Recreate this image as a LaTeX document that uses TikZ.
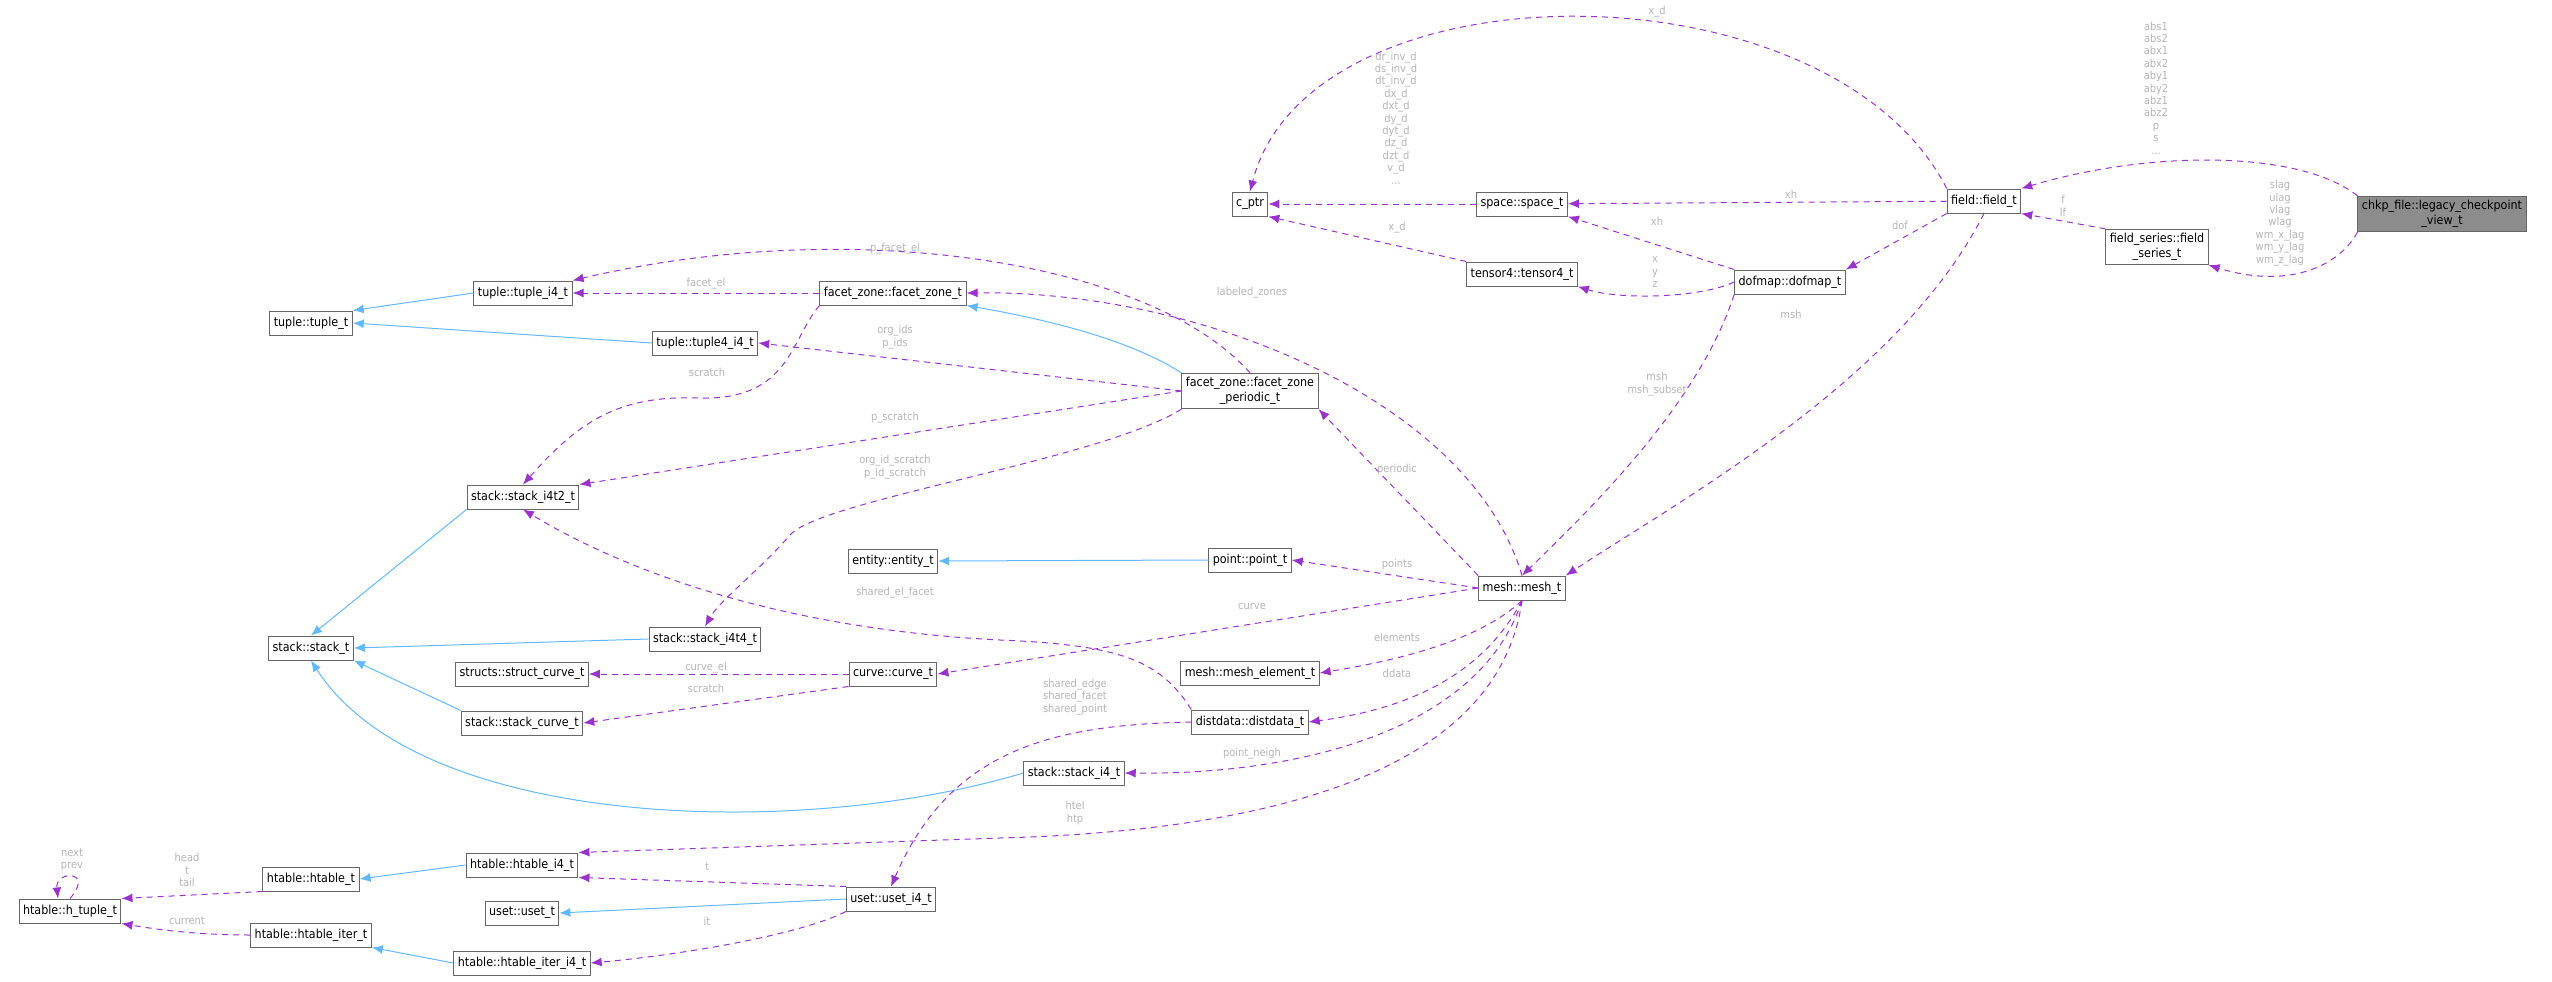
\documentclass[tikz,border=0pt]{standalone}
\usepackage{fontspec}
\setmainfont{DejaVu Sans Condensed}
\usetikzlibrary{arrows.meta}
\definecolor{usecol}{HTML}{9A32CD}
\definecolor{inhcol}{HTML}{63B8FF}
\definecolor{lblcol}{HTML}{B4B4B4}
\tikzset{
  cls/.style={draw=black!60, fill=white, rectangle, inner sep=4pt, minimum height=24pt,
    font=\fontsize{12.4}{15}\selectfont, align=center, line width=1pt},
  use/.style={draw=usecol, dashed, dash pattern=on 6pt off 5pt, line width=1pt,
    -{Latex[length=11pt,width=9pt]}},
  inh/.style={draw=inhcol, line width=1pt, -{Latex[length=11pt,width=9pt]}},
  lbl/.style={text=lblcol, font=\fontsize{11}{12.4}\selectfont, align=center, inner sep=0pt}
}
\begin{document}
\begin{tikzpicture}[x=1pt, y=-1pt]
  \useasboundingbox (0,0) rectangle (2552,982);

  % Classes
  \node[cls, fill=black!45] (chkp) at (2442,214) {chkp\_file::legacy\_checkpoint\\\_view\_t};
  \node[cls] (field)   at (1984,201) {field::field\_t};
  \node[cls] (fseries) at (2157,247) {field\_series::field\\\_series\_t};
  \node[cls] (cptr)    at (1250,204) {c\_ptr};
  \node[cls] (space)   at (1522,204) {space::space\_t};
  \node[cls] (tensor)  at (1522,274) {tensor4::tensor4\_t};
  \node[cls] (dofmap)  at (1790,282) {dofmap::dofmap\_t};
  \node[cls] (tuplei4) at (523,293)  {tuple::tuple\_i4\_t};
  \node[cls] (fzone)   at (893,293)  {facet\_zone::facet\_zone\_t};
  \node[cls] (tuple)   at (311,323)  {tuple::tuple\_t};
  \node[cls] (tuple4)  at (705,343)  {tuple::tuple4\_i4\_t};
  \node[cls] (fzper)   at (1250,391) {facet\_zone::facet\_zone\\\_periodic\_t};
  \node[cls] (si4t2)   at (523,497)  {stack::stack\_i4t2\_t};
  \node[cls] (entity)  at (893,561)  {entity::entity\_t};
  \node[cls] (point)   at (1250,560) {point::point\_t};
  \node[cls] (mesh)    at (1522,588) {mesh::mesh\_t};
  \node[cls] (si4t4)   at (705,639)  {stack::stack\_i4t4\_t};
  \node[cls] (stack)   at (311,648)  {stack::stack\_t};
  \node[cls] (scurve)  at (522,674)  {structs::struct\_curve\_t};
  \node[cls] (curve)   at (893,674)  {curve::curve\_t};
  \node[cls] (melem)   at (1250,673) {mesh::mesh\_element\_t};
  \node[cls] (stcurve) at (522,723)  {stack::stack\_curve\_t};
  \node[cls] (ddata)   at (1250,722) {distdata::distdata\_t};
  \node[cls] (si4)     at (1074,773) {stack::stack\_i4\_t};
  \node[cls] (hti4)    at (522,865)  {htable::htable\_i4\_t};
  \node[cls] (htable)  at (311,879)  {htable::htable\_t};
  \node[cls] (htuple)  at (70,911)   {htable::h\_tuple\_t};
  \node[cls] (uset)    at (522,913)  {uset::uset\_t};
  \node[cls] (useti4)  at (891,899)  {uset::uset\_i4\_t};
  \node[cls] (hiter)   at (311,935)  {htable::htable\_iter\_t};
  \node[cls] (hiteri4) at (522,963)  {htable::htable\_iter\_i4\_t};

  % Inheritance
  \draw[inh] (tuplei4.west) -- (tuple.north east);
  \draw[inh] (tuple4.west) -- (tuple.east);
  \draw[inh] (fzper.north west) .. controls (1130,340) and (1050,320) .. (fzone.south east);
  \draw[inh] (si4t2.south west) -- (stack.north);
  \draw[inh] (si4t4.west) -- (stack.east);
  \draw[inh] (stcurve.north west) -- (stack.south east);
  \draw[inh] (si4.west) .. controls (800,840) and (420,830) .. (stack.south);
  \draw[inh] (point.west) -- (entity.east);
  \draw[inh] (hti4.west) -- (htable.east);
  \draw[inh] (useti4.west) -- (uset.east);
  \draw[inh] (hiteri4.west) -- (hiter.south east);

  % Members of the checkpoint and the field
  \draw[use] (chkp.north west) .. controls (2300,150) and (2150,150) .. (field.north east);
  \node[lbl] at (2156,88) {abs1\\abs2\\abx1\\abx2\\aby1\\aby2\\abz1\\abz2\\p\\s\\...};
  \draw[use] (chkp.south west) .. controls (2340,265) and (2290,290) .. (fseries.south east);
  \node[lbl] at (2280,223) {slag\\ulag\\vlag\\wlag\\wm\_x\_lag\\wm\_y\_lag\\wm\_z\_lag};
  \draw[use] (fseries.north west) -- (field.south east);
  \node[lbl] at (2063,206) {f\\lf};
  \draw[use] (field.north west) .. controls (1830,-40) and (1310,-40) .. (cptr.north);
  \node[lbl] at (1657,12) {x\_d};
  \draw[use] (field) -- (space);
  \node[lbl] at (1791,194) {xh};
  \draw[use] (field.south west) -- (dofmap.north east);
  \node[lbl] at (1900,225) {dof};
  \draw[use] (field.south) .. controls (1900,380) and (1680,500) .. (mesh.north east);
  \node[lbl] at (1791,314) {msh};

  % Members of space, tensor and dofmap
  \draw[use] (space) -- (cptr);
  \node[lbl] at (1396,118) {dr\_inv\_d\\ds\_inv\_d\\dt\_inv\_d\\dx\_d\\dxt\_d\\dy\_d\\dyt\_d\\dz\_d\\dzt\_d\\v\_d\\...};
  \draw[use] (tensor.north west) -- (cptr.south east);
  \node[lbl] at (1397,228) {x\_d};
  \draw[use] (dofmap.north west) -- (space.south east);
  \node[lbl] at (1657,221) {xh};
  \draw[use] (dofmap.west) .. controls (1700,298) and (1620,300) .. (tensor.south east);
  \node[lbl] at (1655,272) {x\\y\\z};
  \draw[use] (dofmap.south west) .. controls (1700,400) and (1600,500) .. (mesh.north);
  \node[lbl] at (1657,384) {msh\\msh\_subset};

  % Members of the mesh
  \draw[use] (mesh.north) .. controls (1470,400) and (1200,290) .. (fzone.east);
  \node[lbl] at (1252,293) {labeled\_zones};
  \draw[use] (mesh.north west) -- (fzper.south east);
  \node[lbl] at (1397,469) {periodic};
  \draw[use] (mesh.west) -- (point.east);
  \node[lbl] at (1397,564) {points};
  \draw[use] (mesh.west) -- (curve.east);
  \node[lbl] at (1252,606) {curve};
  \draw[use] (mesh.south) .. controls (1480,640) and (1400,660) .. (melem.east);
  \node[lbl] at (1397,637) {elements};
  \draw[use] (mesh.south) .. controls (1480,680) and (1400,710) .. (ddata.east);
  \node[lbl] at (1397,673) {ddata};
  \draw[use] (mesh.south) .. controls (1480,730) and (1300,775) .. (si4.east);
  \node[lbl] at (1252,754) {point\_neigh};
  \draw[use] (mesh.south) .. controls (1500,760) and (1300,830) .. (1000,838) .. controls (800,845) and (650,850) .. (hti4.north east);
  \node[lbl] at (1075,813) {htel\\htp};

  % Members of the facet zones
  \draw[use] (fzper.north) .. controls (1150,260) and (850,215) .. (tuplei4.north east);
  \node[lbl] at (895,249) {p\_facet\_el};
  \draw[use] (fzone) -- (tuplei4);
  \node[lbl] at (706,284) {facet\_el};
  \draw[use] (fzper.west) -- (tuple4.east);
  \node[lbl] at (895,337) {org\_ids\\p\_ids};
  \draw[use] (fzone.south west) .. controls (790,340) and (790,400) .. (700,398) .. controls (620,395) and (580,420) .. (si4t2.north);
  \node[lbl] at (707,372) {scratch};
  \draw[use] (fzper.west) -- (si4t2.north east);
  \node[lbl] at (895,418) {p\_scratch};
  \draw[use] (fzper.south west) .. controls (1100,460) and (820,500) .. (790,535) .. controls (760,570) and (720,600) .. (si4t4.north);
  \node[lbl] at (895,467) {org\_id\_scratch\\p\_id\_scratch};

  % Members of distdata and curve
  \draw[use] (ddata.north west) .. controls (1160,660) and (1120,645) .. (1000,640) .. controls (800,630) and (640,580) .. (si4t2.south);
  \node[lbl] at (895,593) {shared\_el\_facet};
  \draw[use] (ddata.west) .. controls (1050,725) and (950,750) .. (useti4.north);
  \node[lbl] at (1075,697) {shared\_edge\\shared\_facet\\shared\_point};
  \draw[use] (curve) -- (scurve);
  \node[lbl] at (706,668) {curve\_el};
  \draw[use] (curve.south west) -- (stcurve.east);
  \node[lbl] at (706,688) {scratch};

  % Members of uset and htable
  \draw[use] (useti4.north west) -- (hti4.south east);
  \node[lbl] at (707,867) {t};
  \draw[use] (useti4.south west) .. controls (800,935) and (680,955) .. (hiteri4.east);
  \node[lbl] at (707,921) {it};
  \draw[use] (htable.south west) -- (htuple.north east);
  \node[lbl] at (187,870) {head\\t\\tail};
  \draw[use] (hiter.west) .. controls (200,935) and (160,930) .. (htuple.south east);
  \node[lbl] at (187,921) {current};
  \draw[use] (htuple.north) .. controls (95,870) and (55,870) .. ([xshift=-12pt]htuple.north);
  \node[lbl] at (72,860) {next\\prev};
\end{tikzpicture}
\end{document}
